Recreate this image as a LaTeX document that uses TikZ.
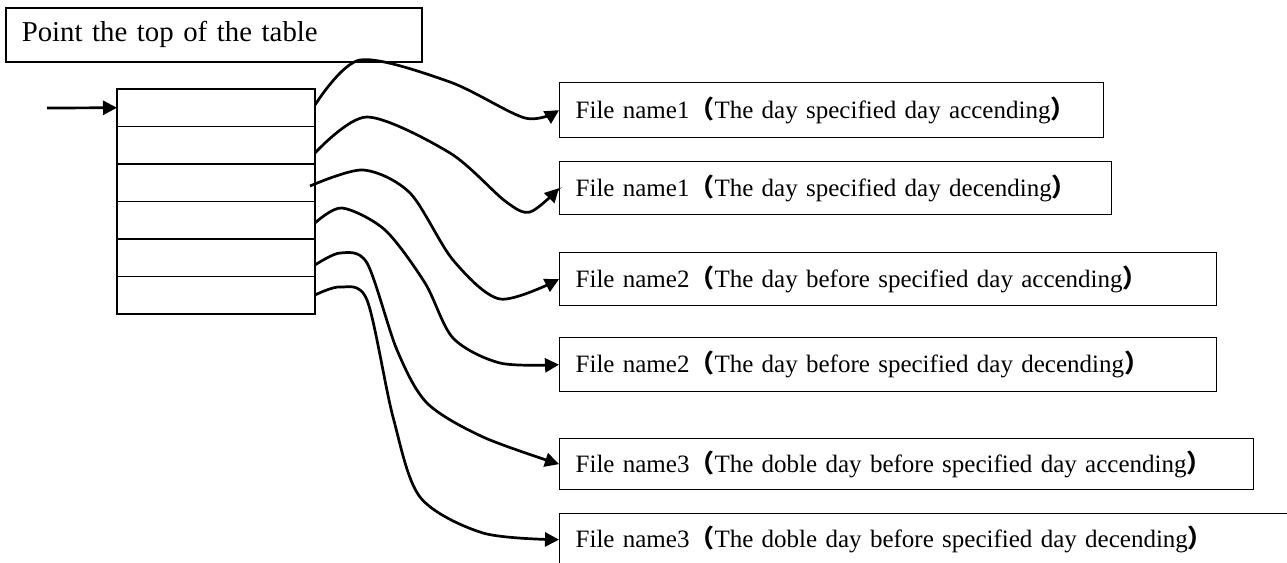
\documentclass[tikz,border=0pt]{standalone}
\usepackage{fontspec}
\setmainfont{Liberation Serif}
\newfontfamily\cjk{Noto Sans CJK SC}
\usetikzlibrary{arrows.meta,positioning}
\newcommand{\openp}{{\cjk\bfseries （}}
\newcommand{\closep}{{\cjk\bfseries ）}}
\begin{document}
\begin{tikzpicture}[x=1pt, y=-1pt,
  cell/.style={rectangle, draw, line width=1.3pt, minimum width=198pt, minimum height=37.5pt, outer sep=0pt, inner sep=0pt},
  fbox/.style={rectangle, draw, line width=1.3pt, anchor=north west, inner xsep=16pt, inner ysep=0pt, align=left, font=\fontsize{25}{29}\selectfont},
  conn/.style={line width=2.7pt, -{Triangle[length=14pt,width=14pt]}}
]
\useasboundingbox (0,0) rectangle (1287,562);

\node[fbox, line width=1.5pt, text width=384pt, minimum height=54pt, font=\fontsize{28.8}{33}\selectfont] (head) at (5,7) {Point the top of the table};

% table
\node[cell, anchor=north west] (r1) at (117,89) {};
\node[cell, below=0pt of r1] (r2) {};
\node[cell, below=0pt of r2] (r3) {};
\node[cell, below=0pt of r3] (r4) {};
\node[cell, below=0pt of r4] (r5) {};
\node[cell, below=0pt of r5] (r6) {};

% files
\node[fbox, text width=512pt, minimum height=55pt] (f1) at (559,82) {File name1\openp The day specified day accending\closep};
\node[fbox, text width=520pt, minimum height=53pt] (f2) at (559,161) {File name1\openp The day specified day decending\closep};
\node[fbox, text width=625pt, minimum height=53pt] (f3) at (559,252) {File name2\openp The day before specified day accending\closep};
\node[fbox, text width=625pt, minimum height=54pt] (f4) at (559,337) {File name2\openp The day before specified day decending\closep};
\node[fbox, text width=662pt, minimum height=51pt] (f5) at (559,438) {File name3\openp The doble day before specified day accending\closep};
\node[fbox, text width=728pt, minimum height=52pt] (f6) at (559,513) {File name3\openp The doble day before specified day decending\closep};

\coordinate (in) at (47,108);
\coordinate (s1) at (315,105);
\coordinate (s2) at (315,153);
\coordinate (s3) at (310,186);
\coordinate (s4) at (315,223);
\coordinate (s5) at (315,265);
\coordinate (s6) at (315,295);

\draw[conn] (in) -- (r1.west);
\draw[conn] plot[smooth] coordinates {(s1) (360,60) (450,82) (525,118) (f1.west)};
\draw[conn] plot[smooth] coordinates {(s2) (367,117) (450,153) (505,201) (530,212) (f2.west)};
\draw[conn] plot[smooth] coordinates {(s3) (363,170) (410,193) (453,260) (500,299) (f3.west)};
\draw[conn] plot[smooth] coordinates {(s4) (342,208) (385,230) (425,283) (453,338) (500,363) (f4.west)};
\draw[conn] plot[smooth] coordinates {(s5) (340,253) (367,263) (397,350) (427,403) (483,437) (f5.west)};
\draw[conn] plot[smooth] coordinates {(s6) (340,287) (367,300) (393,417) (420,497) (483,533) (f6.west)};
\end{tikzpicture}
\end{document}
